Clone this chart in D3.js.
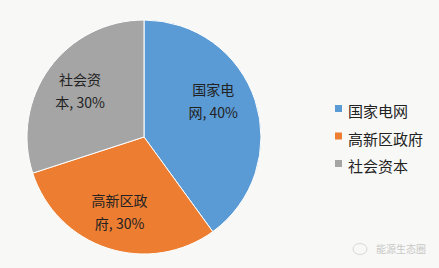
<!DOCTYPE html>
<html>
<head>
	<meta charset="utf-8">
	<title>Pie</title>
	<script src="https://cdn.jsdelivr.net/npm/d3@7"></script>
	<style>
		body {
			margin: 0;
			background: #f8f8f6;
			font-family: "Noto Sans CJK SC", "Noto Sans", sans-serif;
		}
	</style>
</head>
<body>
	<div id="chart"></div>
	<script>
		// data
		const categories = ["国家电网", "高新区政府", "社会资本"];
		const values     = [40, 30, 30];
		const labelLines = [["国家电", "网, 40%"], ["高新区政", "府, 30%"], ["社会资", "本, 30%"]];
		const colors     = ["#5b9bd5", "#ed7d31", "#a5a5a5"];

		const width  = 439;
		const height = 268;
		const cx = 144, cy = 137, radius = 117;

		const svg = d3.select("#chart").append("svg")
			.attr("width", width)
			.attr("height", height)
			.attr("viewBox", [0, 0, width, height]);

		const color = d3.scaleOrdinal(categories, colors);
		const pie = d3.pie().sort(null).value(d => d.value);
		const arcs = pie(categories.map((c, i) => ({ name: c, value: values[i], lines: labelLines[i] })));
		const arc = d3.arc().innerRadius(0).outerRadius(radius);
		const labelArc = d3.arc().innerRadius(79).outerRadius(79);

		const g = svg.append("g").attr("transform", `translate(${cx},${cy})`);

		g.selectAll("path")
			.data(arcs)
			.join("path")
			.attr("d", arc)
			.attr("fill", d => color(d.data.name))
			.attr("stroke", "#fff")
			.attr("stroke-width", 1);

		// excel nudges the big slice's label a bit toward the top
		const lbl = g.selectAll("text.lbl")
			.data(arcs)
			.join("text")
			.attr("class", "lbl")
			.attr("transform", d => {
				const [x, y] = labelArc.centroid(d);
				return d.index === 0 ? `translate(${x - 6},${y - 12})` : `translate(${x},${y})`;
			})
			.attr("text-anchor", "middle")
			.attr("font-size", "14px")
			.attr("fill", "#222");
		lbl.selectAll("tspan")
			.data(d => d.data.lines.map((t, i) => ({ t, i })))
			.join("tspan")
			.attr("x", 0)
			.attr("y", d => d.i === 0 ? -6 : 17)
			.text(d => d.t);

		// legend
		const legend = svg.append("g").attr("transform", "translate(335,0)");
		const row = legend.selectAll("g")
			.data(categories)
			.join("g")
			.attr("transform", (d, i) => `translate(0,${112 + i * 27.5})`);
		row.append("rect")
			.attr("x", 0)
			.attr("y", -7)
			.attr("width", 7)
			.attr("height", 7)
			.attr("fill", d => color(d));
		row.append("text")
			.attr("x", 13)
			.attr("y", 5)
			.attr("font-size", "15px")
			.attr("fill", "#222")
			.text(d => d);

		// watermark
		const wm = svg.append("g").attr("transform", "translate(360,253)").attr("opacity", 0.5);
		wm.append("ellipse").attr("cx", 0).attr("cy", -4).attr("rx", 7).attr("ry", 5.5)
			.attr("fill", "none").attr("stroke", "#bbb");
		wm.append("text")
			.attr("x", 16)
			.attr("y", 0)
			.attr("font-size", "10px")
			.attr("fill", "#999")
			.text("能源生态圈");
	</script>
</body>
</html>
